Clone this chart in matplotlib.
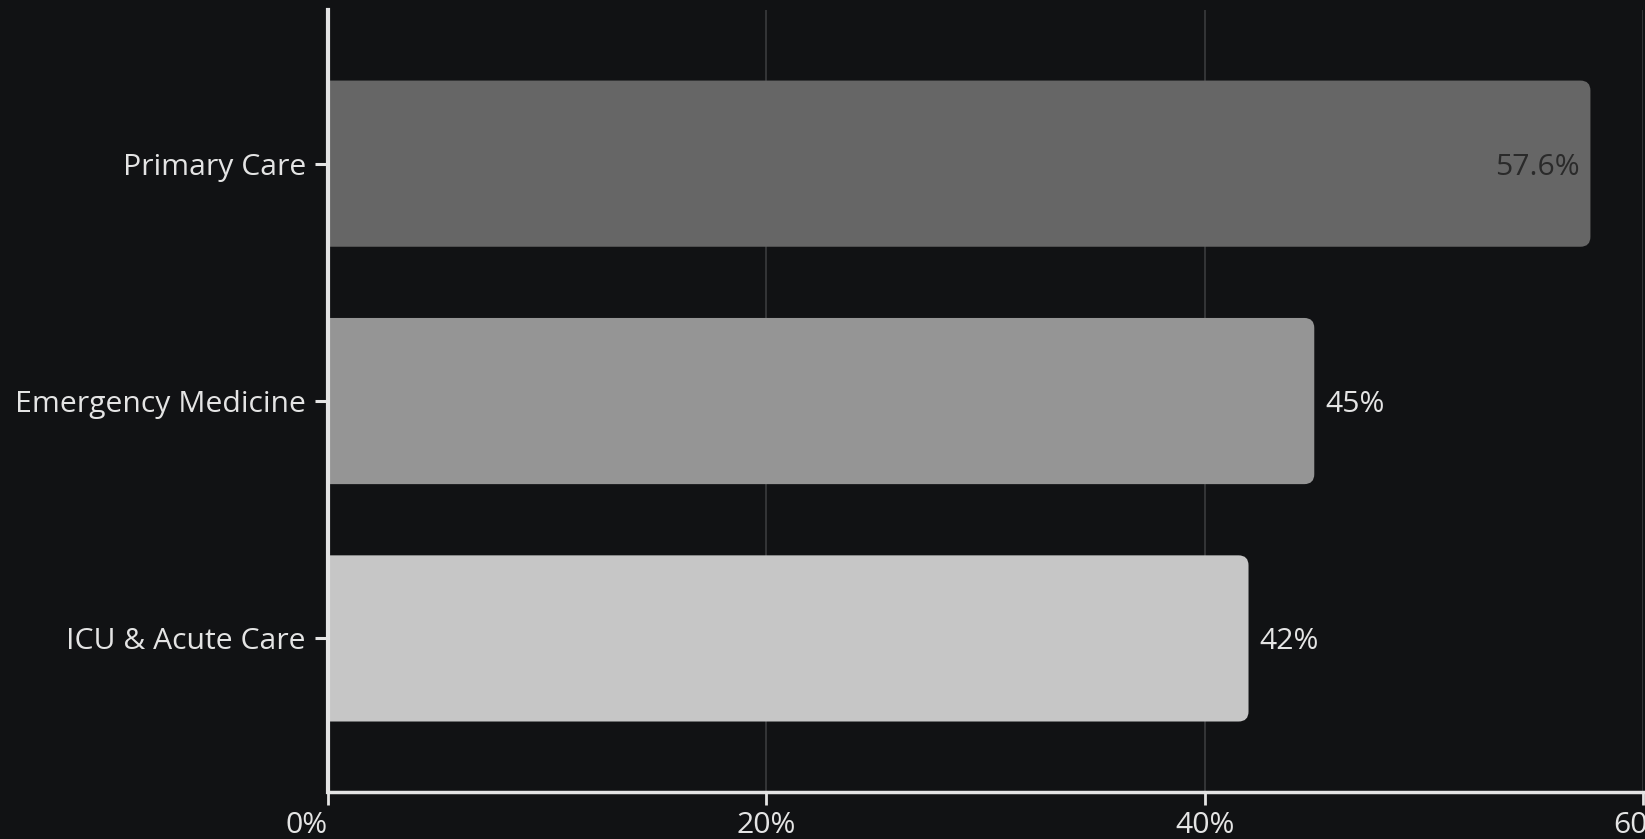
import matplotlib.pyplot as plt
from matplotlib.patches import FancyBboxPatch
from matplotlib.ticker import FuncFormatter

categories = ["Primary Care", "Emergency Medicine", "ICU & Acute Care"]
values = [57.6, 45, 42]
value_labels = ["57.6%", "45%", "42%"]
colors = ["#666666", "#959595", "#c6c6c6"]
xticks = [0, 20, 40, 60]

bg = "#111214"
fg = "#e4e4e4"
fs = 21.7

plt.rcParams["font.family"] = ["Open Sans", "Noto Sans", "DejaVu Sans"]

fig = plt.figure(figsize=(16.45, 8.39), dpi=100, facecolor=bg)
ax = fig.add_axes([0.1994, 0.056, 0.7994, 0.932])
ax.set_facecolor(bg)

ypos = list(range(len(categories)))
bars = ax.barh(ypos, values, height=0.7, color=colors)

ax.set_xlim(0, 60)
ax.set_ylim(2.647, -0.647)

# swap plain bars for ones with rounded right ends
fig.canvas.draw()
px_x = (ax.get_xlim()[1] - ax.get_xlim()[0]) / ax.bbox.width
px_y = abs(ax.get_ylim()[0] - ax.get_ylim()[1]) / ax.bbox.height
r = 10 * px_x
for b, c in zip(bars, colors):
    x0, y0 = b.get_x(), b.get_y()
    w, h = b.get_width(), b.get_height()
    b.set_visible(False)
    p = FancyBboxPatch((x0 - 2, y0), w + 2, h,
                       boxstyle=f"round,pad=0,rounding_size={r}",
                       mutation_aspect=px_y / px_x,
                       facecolor=c, edgecolor="none", zorder=2)
    ax.add_patch(p)

for i, (v, lab) in enumerate(zip(values, value_labels)):
    if i == 0:
        ax.text(v - 0.5, i, lab, ha="right", va="center_baseline", fontsize=fs,
                color="#2a2a2a", zorder=3)
    else:
        ax.text(v + 0.5, i, lab, ha="left", va="center_baseline", fontsize=fs,
                color=fg, zorder=3)

ax.set_yticks(ypos)
ax.set_yticklabels(categories)
ax.set_xticks(xticks)
ax.xaxis.set_major_formatter(FuncFormatter(lambda x, _: f"{x:.0f}%"))

ax.grid(axis="x", color="#3a3b3d", linewidth=1.2, zorder=0)
ax.set_axisbelow(True)

for s in ["top", "right"]:
    ax.spines[s].set_visible(False)
ax.spines["left"].set_color(fg)
ax.spines["left"].set_linewidth(3)
ax.spines["bottom"].set_color(fg)
ax.spines["bottom"].set_linewidth(2.5)
ax.spines["left"].set_zorder(4)

ax.tick_params(axis="y", colors=fg, labelsize=fs, length=9.4, width=2.2, pad=6.5)
ax.tick_params(axis="x", colors=fg, labelsize=fs, length=9.4, width=2, pad=4)

# first x label sits to the left of its tick
ax.get_xticklabels()[0].set_horizontalalignment("right")

fig.savefig("out.png", dpi=100, facecolor=bg)
